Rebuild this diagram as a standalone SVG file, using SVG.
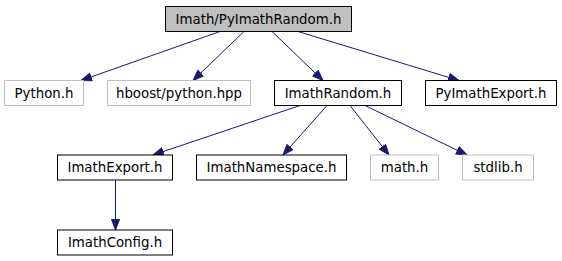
<svg xmlns="http://www.w3.org/2000/svg" width="562" height="261" viewBox="0 0 562 261">
<style>
.n rect{fill:#fff;stroke:#000;stroke-width:1}
.n.ext rect{stroke:#bfbfbf}
.n.root rect{fill:#bfbfbf}
.n text{font-family:"DejaVu Sans",sans-serif;font-size:13.33px;text-anchor:middle;fill:#000}
.e line{stroke:#191970;stroke-width:1;marker-end:url(#ah)}
</style>
<defs>
<marker id="ah" markerUnits="userSpaceOnUse" markerWidth="13" markerHeight="11" refX="11" refY="4.5" orient="auto">
<path d="M0.5,0.5 L11,4.5 L0.5,8.5 z" fill="#191970" stroke="#191970" stroke-width="1"/>
</marker>
</defs>
<rect width="562" height="261" fill="#fff"/>
<g id="edges" class="e">
<line x1="220" y1="31.5" x2="81" y2="80.5"/>
<line x1="244" y1="31.5" x2="193" y2="80.5"/>
<line x1="272" y1="31.5" x2="323" y2="80.5"/>
<line x1="298" y1="31.5" x2="459" y2="80.5"/>
<line x1="300" y1="105.5" x2="153" y2="155"/>
<line x1="327" y1="105.5" x2="283" y2="155"/>
<line x1="350" y1="105.5" x2="389" y2="155"/>
<line x1="365" y1="105.5" x2="467" y2="155"/>
<line x1="115.5" y1="180" x2="115.5" y2="230"/>
</g>
<g id="root" class="n root"><rect x="165.5" y="6.5" width="186" height="25"/><text x="258.5" y="23.5">Imath/PyImathRandom.h</text></g>
<g id="python_h" class="n ext"><rect x="4.5" y="80.5" width="79" height="25"/><text x="44" y="97.5">Python.h</text></g>
<g id="hboost_python_hpp" class="n ext"><rect x="107.5" y="80.5" width="143" height="25"/><text x="179" y="97.5">hboost/python.hpp</text></g>
<g id="ImathRandom_h" class="n"><rect x="274.5" y="80.5" width="127" height="25"/><text x="338" y="97.5">ImathRandom.h</text></g>
<g id="PyImathExport_h" class="n"><rect x="425.5" y="80.5" width="131" height="25"/><text x="491" y="97.5">PyImathExport.h</text></g>
<g id="ImathExport_h" class="n"><rect x="57.5" y="155" width="115" height="25"/><text x="115" y="172">ImathExport.h</text></g>
<g id="ImathNamespace_h" class="n"><rect x="196.5" y="155" width="150" height="25"/><text x="271.5" y="172">ImathNamespace.h</text></g>
<g id="math_h" class="n ext"><rect x="370.5" y="155" width="68" height="25"/><text x="404.5" y="172">math.h</text></g>
<g id="stdlib_h" class="n ext"><rect x="462.5" y="155" width="71" height="25"/><text x="498" y="172">stdlib.h</text></g>
<g id="ImathConfig_h" class="n"><rect x="57.5" y="230" width="115" height="25"/><text x="115" y="247">ImathConfig.h</text></g>
</svg>
